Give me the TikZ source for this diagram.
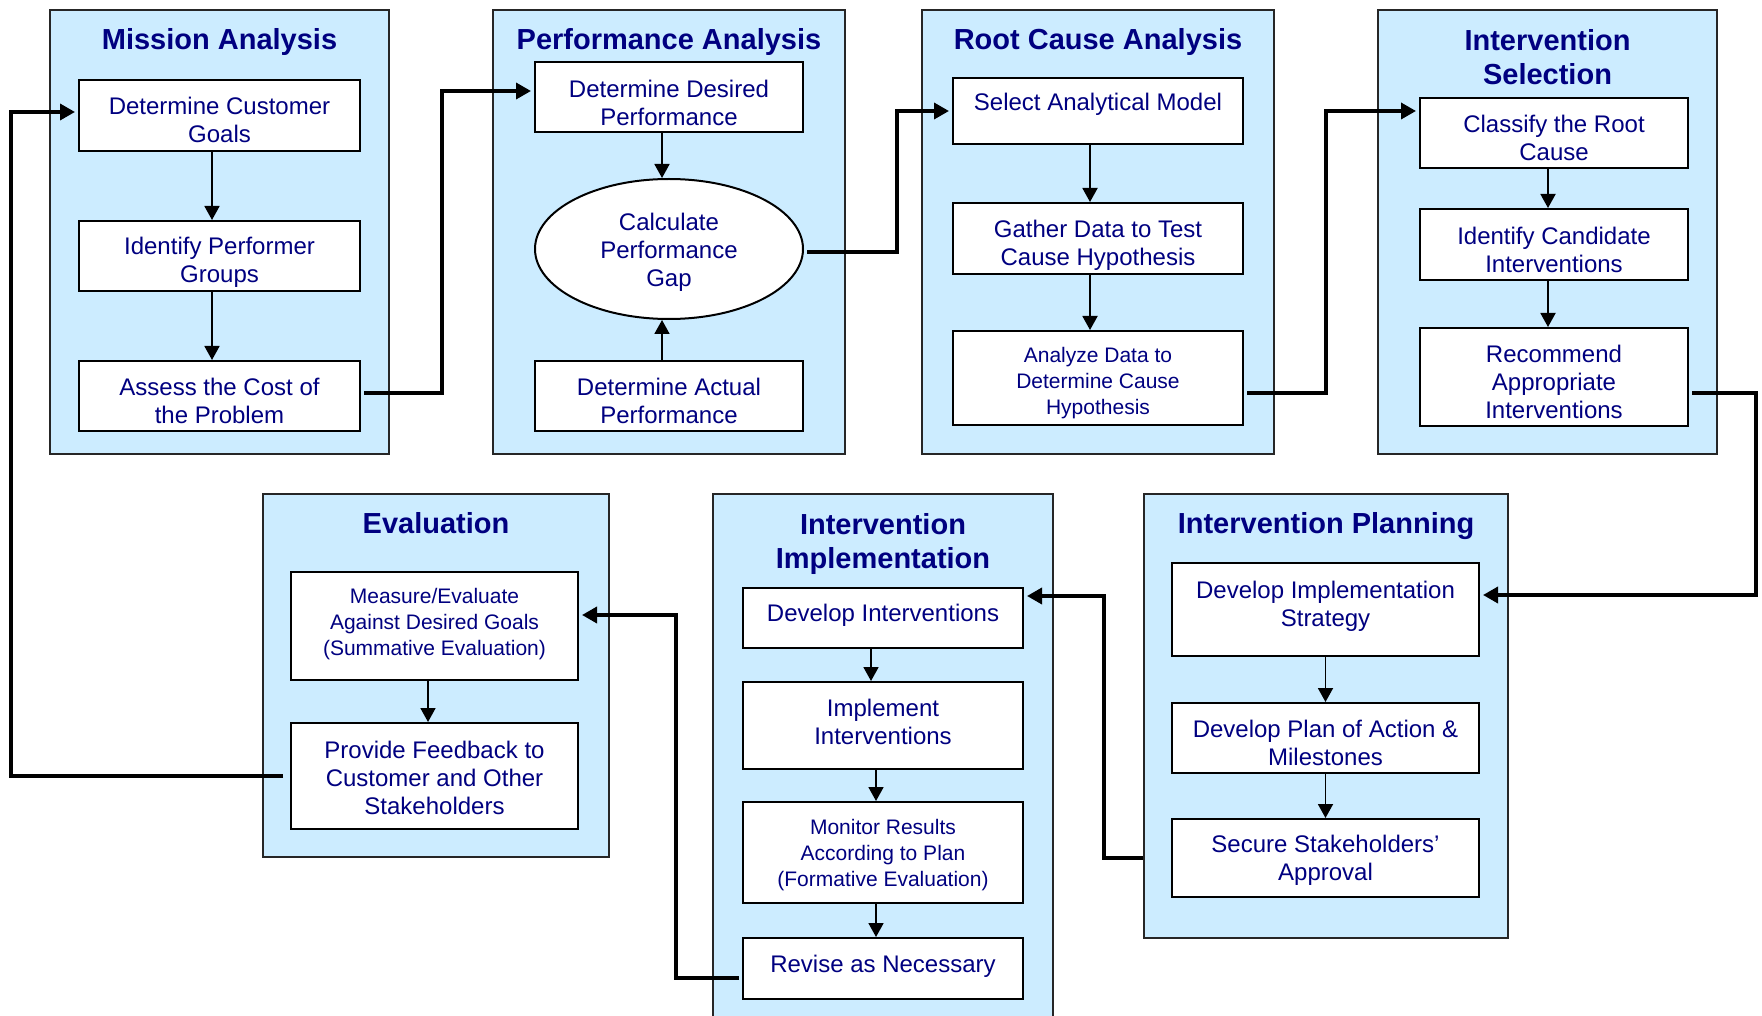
\documentclass[tikz,border=0pt]{standalone}
\usepackage{fontspec}
\setmainfont{Liberation Sans}
\usetikzlibrary{arrows.meta,shapes.geometric}
\definecolor{navytext}{RGB}{0,0,128}
\definecolor{panelblue}{RGB}{204,236,255}
\newcommand\topst[1]{\rule{0pt}{#1pt}}
\newcommand\botst[1]{\rule[-#1pt]{0pt}{#1pt}}
\begin{document}
\begin{tikzpicture}[x=1pt,y=-1pt,
  panel/.style={draw=black!85, line width=2pt, fill=panelblue, inner sep=0pt},
  ttl/.style={text=navytext, font=\fontsize{29}{34}\selectfont\bfseries, align=center, inner sep=0pt},
  procbox/.style={draw=black, line width=2pt, fill=white, text=navytext, font=\fontsize{24}{28}\selectfont, align=center, inner sep=0pt},
  smallbox/.style={procbox, font=\fontsize{21}{26}\selectfont},
  oval/.style={procbox, ellipse},
  arr/.style={line width=1.8pt, -{Triangle[width=15pt,length=14pt]}},
  conn/.style={line width=3.5pt, -{Triangle[width=16pt,length=15pt]}, shorten <=3pt, shorten >=3pt}
]
\useasboundingbox (0,0) rectangle (1762,1016);
\clip (0,0) rectangle (1762,1016);
\fill[white] (0,0) rectangle (1762,1016);

% ---------- panels ----------
\node[panel, minimum width=339pt, minimum height=444pt] (p1) at (219.5,232) {};
\node[panel, minimum width=352pt, minimum height=444pt] (p2) at (669,232) {};
\node[panel, minimum width=352pt, minimum height=444pt] (p3) at (1098,232) {};
\node[panel, minimum width=339pt, minimum height=444pt] (p4) at (1547.5,232) {};
\node[panel, minimum width=346pt, minimum height=363pt] (p5) at (436,675.5) {};
\node[panel, minimum width=340pt, minimum height=546pt] (p6) at (883,767) {};
\node[panel, minimum width=364pt, minimum height=444pt] (p7) at (1326,716) {};

% ---------- titles ----------
\node[ttl, anchor=base] (t1) at (219.5,50) {Mission Analysis};
\node[ttl, anchor=base] (t2) at (669,50) {Performance Analysis};
\node[ttl, anchor=base] (t3) at (1098,50) {Root Cause Analysis};
\node[ttl] (t4) at (1547.5,57) {Intervention\\Selection};
\node[ttl, anchor=base] (t5) at (436,533) {Evaluation};
\node[ttl] (t6) at (883,544) {Intervention\\Implementation};
\node[ttl, anchor=base] (t7) at (1326,533) {Intervention Planning};

% ---------- Mission Analysis ----------
\node[procbox, minimum width=281pt, minimum height=71pt] (b11) at (219.5,115.5) {\topst{31.6}Determine Customer\\Goals\botst{6}};
\node[procbox, minimum width=281pt, minimum height=70pt] (b12) at (219.5,256) {\topst{32}Identify Performer\\Groups\botst{6}};
\node[procbox, minimum width=281pt, minimum height=70pt] (b13) at (219.5,396) {\topst{32}Assess the Cost of\\the Problem\botst{6}};

% ---------- Performance Analysis ----------
\node[procbox, minimum width=268pt, minimum height=70pt] (b21) at (669,97) {\topst{34.6}Determine Desired\\Performance\botst{6}};
\node[oval, minimum width=268pt, minimum height=140pt] (gap) at (669,249) {\topst{25.4}Calculate\\Performance\\Gap\botst{6}};
\node[procbox, minimum width=268pt, minimum height=70pt] (b23) at (669,396) {\topst{32}Determine Actual\\Performance\botst{6}};

% ---------- Root Cause Analysis ----------
\node[procbox, minimum width=290pt, minimum height=66pt] (b31) at (1098,111) {\topst{20}Select Analytical Model\botst{20}};
\node[procbox, minimum width=290pt, minimum height=71pt] (b32) at (1098,238.5) {\topst{31.6}Gather Data to Test\\Cause Hypothesis\botst{6}};
\node[smallbox, minimum width=290pt, minimum height=94pt] (b33) at (1098,378) {\topst{27.4}Analyze Data to\\Determine Cause\\Hypothesis\botst{6}};

% ---------- Intervention Selection ----------
\node[procbox, minimum width=268pt, minimum height=70pt] (b41) at (1554,133) {\topst{32.6}Classify the Root\\Cause\botst{6}};
\node[procbox, minimum width=268pt, minimum height=71pt] (b42) at (1554,244.5) {\topst{33.6}Identify Candidate\\Interventions\botst{6}};
\node[procbox, minimum width=268pt, minimum height=98pt] (b43) at (1554,377) {\topst{32.6}Recommend\\Appropriate\\Interventions\botst{6}};

% ---------- Evaluation ----------
\node[smallbox, minimum width=287pt, minimum height=108pt] (b51) at (434.5,626) {\topst{18.6}Measure/Evaluate\\Against Desired Goals\\(Summative Evaluation)\botst{12}};
\node[procbox, minimum width=287pt, minimum height=106pt] (b52) at (434.5,776) {\topst{26.6}Provide Feedback to\\Customer and Other\\Stakeholders\botst{6}};

% ---------- Intervention Implementation ----------
\node[procbox, minimum width=280pt, minimum height=60pt] (b61) at (883,618) {\topst{19.8}Develop Interventions\botst{12}};
\node[procbox, minimum width=280pt, minimum height=87pt] (b62) at (883,725.5) {\topst{20.2}Implement\\Interventions\botst{10}};
\node[smallbox, minimum width=280pt, minimum height=101pt] (b63) at (883,852.5) {\topst{22}Monitor Results\\According to Plan\\(Formative Evaluation)\botst{6}};
\node[procbox, minimum width=280pt, minimum height=61pt] (b64) at (883,968.5) {\topst{19.6}Revise as Necessary\botst{12}};

% ---------- Intervention Planning ----------
\node[procbox, minimum width=307pt, minimum height=93pt] (b71) at (1325.5,609.5) {\topst{19.6}Develop Implementation\\Strategy\botst{14}};
\node[procbox, minimum width=307pt, minimum height=70pt] (b72) at (1325.5,738) {\topst{32.6}Develop Plan of Action \&\\Milestones\botst{6}};
\node[procbox, minimum width=307pt, minimum height=78pt] (b73) at (1325.5,858) {\topst{23.4}Secure Stakeholders’\\Approval\botst{6}};

% ---------- arrows inside panels ----------
\draw[arr] ([xshift=-7.5pt]b11.south) -- ([xshift=-7.5pt]b12.north);
\draw[arr] ([xshift=-7.5pt]b12.south) -- ([xshift=-7.5pt]b13.north);
\draw[arr] ([xshift=-7pt]b21.south) -- ([xshift=-7pt]gap.north);
\draw[arr] ([xshift=-7pt]b23.north) -- ([xshift=-7pt]gap.south);
\draw[arr] ([xshift=-8pt]b31.south) -- ([xshift=-8pt]b32.north);
\draw[arr] ([xshift=-8pt]b32.south) -- ([xshift=-8pt]b33.north);
\draw[arr] ([xshift=-6pt]b41.south) -- ([xshift=-6pt]b42.north);
\draw[arr] ([xshift=-6pt]b42.south) -- ([xshift=-6pt]b43.north);
\draw[arr] ([xshift=-6.5pt]b51.south) -- ([xshift=-6.5pt]b52.north);
\draw[arr] ([xshift=-12pt]b61.south) -- ([xshift=-12pt]b62.north);
\draw[arr] ([xshift=-7pt]b62.south) -- ([xshift=-7pt]b63.north);
\draw[arr] ([xshift=-7pt]b63.south) -- ([xshift=-7pt]b64.north);
\draw[arr] (b71.south) -- (b72.north);
\draw[arr] (b72.south) -- (b73.north);

% ---------- connectors between panels ----------
\draw[conn] ([yshift=3pt]b13.east) -- ++(81,0) |- ([yshift=6pt]b21.west);
\draw[conn] ([yshift=-3pt]gap.east) -- ++(93,0) |- (b31.west);
\draw[conn] ([yshift=-15pt]b33.east) -- ++(82,0) |- ([yshift=22pt]b41.west);
\draw[conn] ([yshift=-16pt]b43.east) -- ++(67,0) |- ([yshift=14.5pt]b71.east);
\draw[conn, shorten <=0pt] ([yshift=81pt]p7.south west) -- ++(-39,0) |- ([yshift=22pt]b61.east);
\draw[conn] ([yshift=-9.5pt]b64.west) -- ++(-66,0) |- ([yshift=11pt]b51.east);
\draw[conn, shorten <=7pt] (b52.west) -- ++(-279,0) |- ([yshift=3.5pt]b11.west);
\end{tikzpicture}
\end{document}
